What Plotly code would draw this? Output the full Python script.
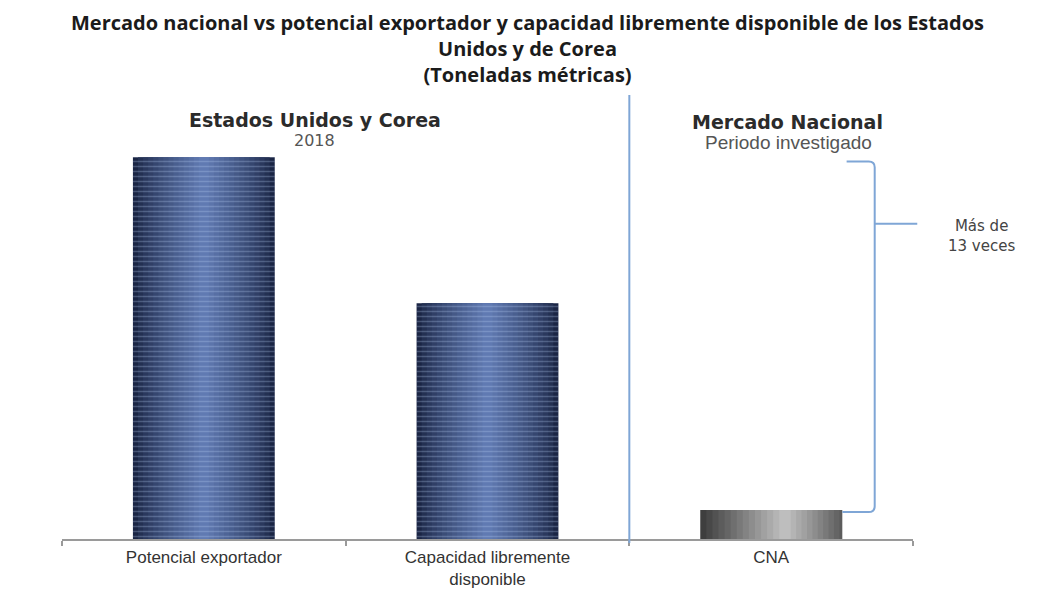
import plotly.graph_objects as go

# ---- data (relative tonnage, CNA = 1) ----
categories = ["Potencial exportador", "Capacidad libremente<br>disponible", "CNA"]
values = [13.2, 8.15, 1.0]
us_kr_idx = [0, 1]      # Estados Unidos y Corea 2018
national_idx = [2]      # Mercado Nacional

title_lines = ["Mercado nacional vs potencial exportador y capacidad libremente disponible de los Estados",
               "Unidos y de Corea",
               "(Toneladas métricas)"]


def mix(c1, c2, t):
    return "rgb(%d,%d,%d)" % tuple(round(a + (b - a) * t) for a, b in zip(c1, c2))


# style: smooth horizontal gradient built from overlaid bars
N = 14
blue_edge, blue_mid = (26, 37, 68), (96, 122, 178)
blue_layers = [(0.5 * (1 - k / N), mix(blue_edge, blue_mid, (k / (N - 1)) ** 0.8)) for k in range(N)]
gray_dark, gray_light = (62, 62, 62), (200, 200, 200)
peak, half = 0.05, 0.25
gray_layers = []
for k in range(N):
    t = k / N
    left = -half + (peak + half) * t
    right = half - (half - peak) * max(0.0, (t - 0.25) / 0.75)
    gray_layers.append((left, right - left, mix(gray_dark, gray_light, t)))

xb = [categories[i] for i in us_kr_idx]
yb = [values[i] for i in us_kr_idx]
xn = [categories[i] for i in national_idx]
yn = [values[i] for i in national_idx]

fig = go.Figure()
for w, c in blue_layers:
    fig.add_trace(go.Bar(x=xb, y=yb, width=w, marker=dict(color=c, line=dict(width=0)),
                         hoverinfo="skip"))
fig.add_trace(go.Bar(x=xb, y=yb, width=0.5,
                     marker=dict(color="rgba(0,0,0,0)", line=dict(width=0),
                                 pattern=dict(shape="-", fgcolor="rgba(185,205,245,0.55)",
                                              size=5, solidity=0.3, fillmode="overlay")),
                     hoverinfo="skip"))
for o, w, c in gray_layers:
    fig.add_trace(go.Bar(x=xn, y=yn, width=w, offset=o,
                         marker=dict(color=c, line=dict(width=0)), hoverinfo="skip"))

line_blue = "#7fa6d6"
# vertical separator between the two groups
fig.add_shape(type="line", xref="x", yref="paper", x0=1.5, x1=1.5, y0=-0.01, y1=1.096,
              line=dict(color=line_blue, width=2))

# bracket from the exporter-bar level down to the CNA bar
ytop = values[0] - 0.15
ybot = values[2] - 0.07
ymid = 10.9
xs, xk, xt = 0.922, 0.955, 1.005
ry, rx = 0.2, 0.007
path = (f"M {xs},{ytop} L {xk-rx},{ytop} Q {xk},{ytop} {xk},{ytop-ry} "
        f"L {xk},{ybot+ry} Q {xk},{ybot} {xk-rx},{ybot} L 0.917,{ybot}")
fig.add_shape(type="path", xref="paper", yref="y", path=path,
              line=dict(color=line_blue, width=2))
fig.add_shape(type="line", xref="paper", yref="y", x0=xk, x1=xt, y0=ymid, y1=ymid,
              line=dict(color=line_blue, width=2))

ann = [
    dict(text="<b>" + "<br>".join(title_lines) + "</b>", x=0.5465, y=1.2099, size=20,
         fam="Open Sans", col="#1b1b1b"),
    dict(text="<b>Estados Unidos y Corea</b>", x=0.297, y=1.035, size=19, fam="DejaVu Sans", col="#2b2b2b"),
    dict(text="2018", x=0.297, y=0.983, size=16, fam="DejaVu Sans", col="#555555"),
    dict(text="<b>Mercado Nacional</b>", x=0.853, y=1.030, size=19, fam="DejaVu Sans", col="#2b2b2b"),
    dict(text="Periodo investigado", x=0.854, y=0.978, size=19, fam="Liberation Sans", col="#555555"),
    dict(text="Más de<br>13 veces", x=1.081, y=0.748, size=15, fam="DejaVu Sans", col="#444444"),
]
for a in ann:
    fig.add_annotation(text=a["text"], x=a["x"], y=a["y"], xref="paper", yref="paper",
                       showarrow=False, xanchor="center", yanchor="middle",
                       font=dict(family=a["fam"], size=a["size"], color=a["col"]))

fig.update_layout(
    width=1042, height=582,
    margin=dict(l=54, r=137, t=126, b=51),
    barmode="overlay", showlegend=False, hovermode=False,
    plot_bgcolor="white", paper_bgcolor="white",
    xaxis=dict(type="category", range=[-0.5, 2.5], tickson="boundaries", automargin=False,
               ticks="outside", ticklen=5, tickcolor="#9a9a9a", tickwidth=1.5,
               showline=True, linecolor="#9a9a9a", linewidth=1.5, showgrid=False,
               ticklabelstandoff=2,
               tickfont=dict(family="Liberation Sans", size=17, color="#333333")),
    yaxis=dict(range=[0, 14], visible=False, showgrid=False, zeroline=False, automargin=False),
)

fig.write_html("out.html")
